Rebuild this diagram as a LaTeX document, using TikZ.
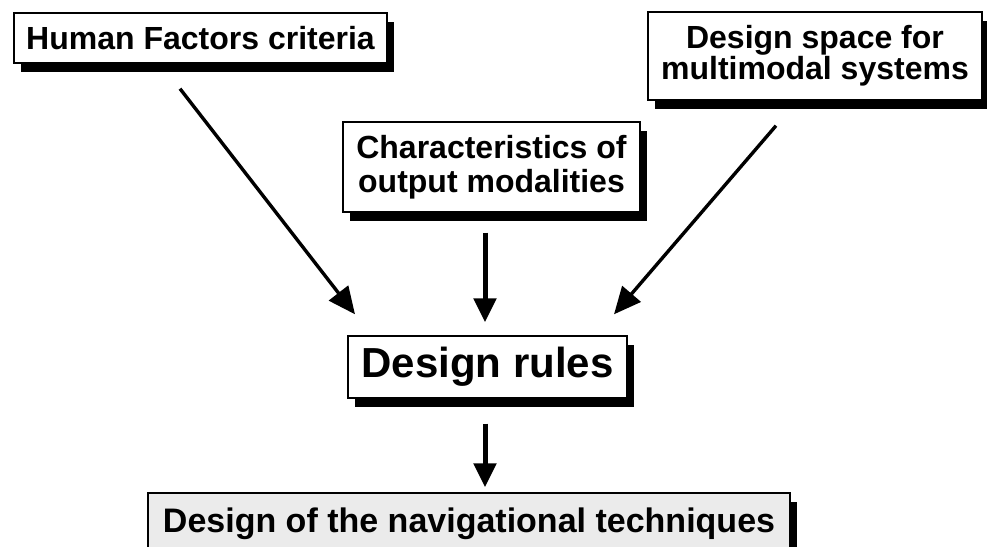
\documentclass[tikz,border=0pt]{standalone}
\usepackage{fontspec}
\setmainfont{Liberation Sans}
\usetikzlibrary{shadows,calc,arrows.meta}
\tikzset{
  box/.style={draw=black, line width=1.4pt, fill=white, inner sep=0pt,
    align=center, font=\bfseries,
    drop shadow={shadow xshift=7pt, shadow yshift=-9pt, fill=black, opacity=1}},
  flow/.style={line width=5pt, -{Triangle[length=24pt,width=22pt]}},
  slant/.style={line width=3.4pt, -{Triangle[length=27pt,width=24pt]}}
}
\begin{document}
\begin{tikzpicture}[x=1pt,y=-1pt]
  \useasboundingbox (0,0) rectangle (987,546);
  \clip (0,0) rectangle (987,546);

  % source boxes
  \node[box, minimum width=373pt, minimum height=50pt, font=\bfseries\fontsize{32}{37}\selectfont]
    (hf) at (200.5,38) {Human Factors criteria};
  \node[box, minimum width=334pt, minimum height=88pt, font=\bfseries\fontsize{32}{31}\selectfont]
    (ds) at (815,56) {Design space for\\multimodal systems};
  \node[box, minimum width=297pt, minimum height=90pt, font=\bfseries\fontsize{32}{34}\selectfont]
    (ch) at (491.5,167) {Characteristics of\\output modalities};

  % result boxes
  \node[box, minimum width=279pt, minimum height=62pt, font=\bfseries\fontsize{42}{48}\selectfont]
    (dr) at (487.5,367) {Design rules};
  \node[box, fill=black!8, minimum width=642pt, minimum height=62pt, font=\bfseries\fontsize{34}{38}\selectfont]
    (nav) at (469,524) {Design of the navigational techniques};

  % connectors
  \draw[slant] ($(hf.south)+(-20.5,25)$) -- ($(dr.north)+(-132.5,-21)$);
  \draw[flow] ($(ch.south)+(-6.5,20)$) -- ($(dr.north)+(-2.5,-13)$);
  \draw[slant] ($(ds.south)+(-39,25)$) -- ($(dr.north)+(126.5,-21)$);
  \draw[flow] ($(dr.south)+(-2.5,25)$) -- ($(nav.north)+(16,-5)$);
\end{tikzpicture}
\end{document}
